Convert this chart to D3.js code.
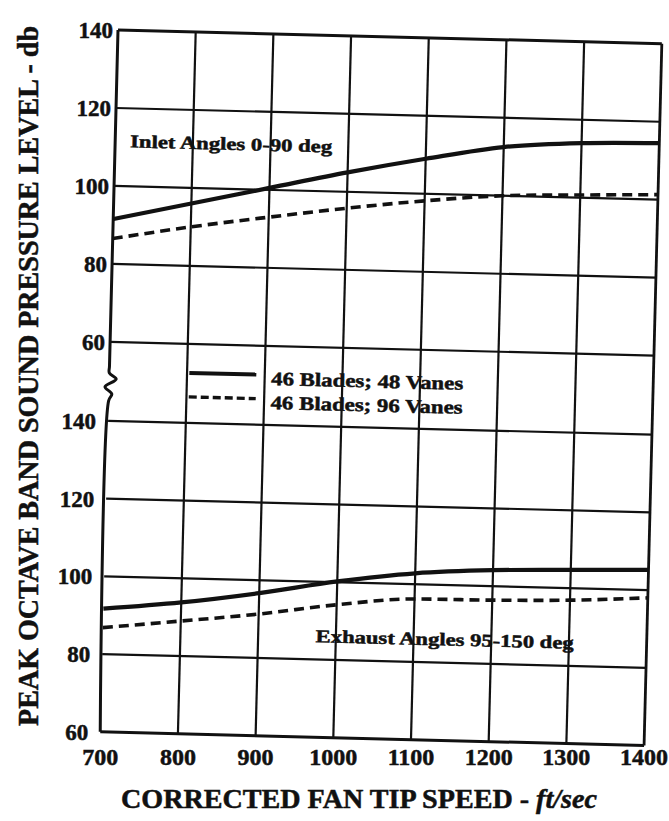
<!DOCTYPE html>
<html>
<head>
<meta charset="utf-8">
<script src="https://cdn.jsdelivr.net/npm/d3@7"></script>
<style>
  body { margin: 0; background: #fff; }
  text { font-family: "Liberation Serif", "Times New Roman", serif; font-weight: bold; fill: #111; stroke: #111; stroke-width: 0.5; }
</style>
</head>
<body>
<div id="chart"></div>
<script>
// corrected fan tip speed, ft/sec
const speeds = [700, 800, 900, 1000, 1100, 1200, 1300, 1400];
const dbTicks = [60, 80, 100, 120, 140];

// inlet angles 0-90 deg (upper panel)
const inlet48 = [91.5, 96, 100.5, 105, 109, 112.5, 114, 114.5];
const inlet96 = [86.5, 90, 93, 95.8, 98.2, 100, 100.7, 101.3];
// exhaust angles 95-150 deg (lower panel)
const exhaust48 = [91.7, 93.8, 96.7, 100.2, 102.8, 104.1, 104.7, 105.2];
const exhaust96 = [86.8, 89, 91.3, 94.2, 96.2, 96.4, 96.9, 98];

const legendLabels = ["46 Blades; 48 Vanes", "46 Blades; 96 Vanes"];

const width = 669, height = 821;
// the scanned figure sits a little crooked on the page
const ox = 118, oy = 30, W = 544, H = 702, angle = 1.45;
const rad = angle * Math.PI / 180;
const toPage = (lx, ly) => [
  ox + lx * Math.cos(rad) - ly * Math.sin(rad),
  oy + lx * Math.sin(rad) + ly * Math.cos(rad)
];

const x = d3.scaleLinear().domain([700, 1400]).range([0, W]);
const yUp = d3.scaleLinear().domain([60, 140]).range([312, 0]);
const yLo = d3.scaleLinear().domain([60, 140]).range([H, 391]);

const svg = d3.select("#chart").append("svg")
  .attr("width", width)
  .attr("height", height);

svg.append("rect").attr("width", width).attr("height", height).attr("fill", "#fff");

const g = svg.append("g")
  .attr("transform", `translate(${ox},${oy}) rotate(${angle})`);

// vertical grid, runs through the break
g.selectAll(".vgrid")
  .data(speeds.slice(1))
  .enter().append("line")
  .attr("class", "vgrid")
  .attr("x1", d => x(d)).attr("x2", d => x(d))
  .attr("y1", 0).attr("y2", H)
  .attr("stroke", "#111")
  .attr("stroke-width", d => d === 1400 ? 2.8 : 2.2);

// horizontal grid, both panels
[yUp, yLo].forEach(y => {
  g.selectAll(null)
    .data(dbTicks)
    .enter().append("line")
    .attr("x1", 0).attr("x2", W)
    .attr("y1", d => y(d)).attr("y2", d => y(d))
    .attr("stroke", "#111")
    .attr("stroke-width", d => (y === yUp && d === 140) || (y === yLo && d === 60) ? 3 : 2.2);
});

// left axis with break mark
const breakLine = d3.line().curve(d3.curveCatmullRom);
g.append("path")
  .attr("d", breakLine([[0, 0], [0, 336], [0, 343], [7, 349], [-4, 357], [3, 364], [0, 371], [0, H]]))
  .attr("fill", "none")
  .attr("stroke", "#111")
  .attr("stroke-width", 3);

// curves
const line = y => d3.line()
  .x((d, i) => x(speeds[i]))
  .y(d => y(d))
  .curve(d3.curveMonotoneX);

const series = [
  { values: inlet48, y: yUp, dash: null },
  { values: inlet96, y: yUp, dash: "10,6" },
  { values: exhaust48, y: yLo, dash: null },
  { values: exhaust96, y: yLo, dash: "10,6" }
];

g.selectAll(".curve")
  .data(series)
  .enter().append("path")
  .attr("class", "curve")
  .attr("d", d => line(d.y)(d.values))
  .attr("fill", "none")
  .attr("stroke", "#111")
  .attr("stroke-width", d => d.dash ? 3.6 : 4.2)
  .attr("stroke-dasharray", d => d.dash);

// legend in the break
const legend = g.append("g").attr("class", "legend");
legendLabels.forEach((label, i) => {
  const ly = 341 + i * 24;
  legend.append("line")
    .attr("x1", 80).attr("x2", 147)
    .attr("y1", ly).attr("y2", ly)
    .attr("stroke", "#111")
    .attr("stroke-width", i === 0 ? 4 : 3.4)
    .attr("stroke-dasharray", i === 0 ? null : "8,4");
  legend.append("text")
    .attr("x", 162).attr("y", ly + 10)
    .attr("font-size", 19)
    .attr("textLength", 192)
    .attr("lengthAdjust", "spacingAndGlyphs")
    .text(label);
});

// panel notes
g.append("text")
  .attr("x", 15).attr("y", 117)
  .attr("font-size", 18)
  .attr("textLength", 202)
  .attr("lengthAdjust", "spacingAndGlyphs")
  .text("Inlet Angles 0-90 deg");

g.append("text")
  .attr("x", 213).attr("y", 607)
  .attr("font-size", 18)
  .attr("textLength", 258)
  .attr("lengthAdjust", "spacingAndGlyphs")
  .text("Exhaust Angles 95-150 deg");

// y tick labels
[[yUp, 5], [yLo, 12]].forEach(([y, gap]) => {
  svg.selectAll(null)
    .data(dbTicks)
    .enter().append("text")
    .attr("x", d => toPage(-gap, y(d))[0])
    .attr("y", d => toPage(-gap, y(d))[1])
    .attr("dy", "0.36em")
    .attr("text-anchor", "end")
    .attr("font-size", 23)
    .text(d => d);
});

// x tick labels
svg.selectAll(".xtick")
  .data(speeds)
  .enter().append("text")
  .attr("class", "xtick")
  .attr("x", d => toPage(x(d), H)[0])
  .attr("y", 765)
  .attr("text-anchor", "middle")
  .attr("font-size", 24)
  .text(d => d);

// axis titles
const xTitle = svg.append("text")
  .attr("x", 359).attr("y", 808)
  .attr("text-anchor", "middle")
  .attr("font-size", 27)
  .attr("textLength", 476)
  .attr("lengthAdjust", "spacingAndGlyphs");
xTitle.append("tspan").text("CORRECTED FAN TIP SPEED - ");
xTitle.append("tspan").attr("font-style", "italic").text("ft/sec");

svg.append("text")
  .attr("transform", "translate(38,376) rotate(-90)")
  .attr("text-anchor", "middle")
  .attr("font-size", 30)
  .attr("textLength", 700)
  .attr("lengthAdjust", "spacingAndGlyphs")
  .text("PEAK OCTAVE BAND SOUND PRESSURE LEVEL - db");
</script>
</body>
</html>
